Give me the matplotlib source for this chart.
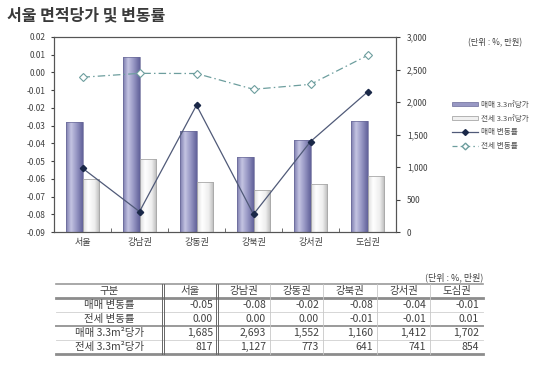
import numpy as np
import matplotlib
matplotlib.use('Agg')
import matplotlib.pyplot as plt
from matplotlib.colors import LinearSegmentedColormap
from matplotlib.lines import Line2D
from matplotlib.patches import Patch

plt.rcParams['font.family'] = ['Noto Sans CJK KR', 'DejaVu Sans']

# ---------------- data ----------------
categories = ['서울', '강남권', '강동권', '강북권', '강서권', '도심권']
sale_price = [1685, 2693, 1552, 1160, 1412, 1702]      # 매매 3.3㎡당가
jeonse_price = [817, 1127, 773, 641, 741, 854]         # 전세 3.3㎡당가
sale_rate = [-0.054, -0.0785, -0.0185, -0.080, -0.039, -0.011]     # 매매 변동률
jeonse_rate = [-0.0027, -0.0005, -0.0006, -0.0095, -0.0067, 0.0096]  # 전세 변동률
table_sale_rate = [-0.05, -0.08, -0.02, -0.08, -0.04, -0.01]
table_jeonse_rate = [0.00, 0.00, 0.00, -0.01, -0.01, 0.01]
left_ticks = [0.02, 0.01, 0.00, -0.01, -0.02, -0.03, -0.04, -0.05, -0.06, -0.07, -0.08, -0.09]
right_ticks = [0, 500, 1000, 1500, 2000, 2500, 3000]
legend_labels = ['매매 3.3㎡당가', '전세 3.3㎡당가', '매매 변동률', '전세 변동률']
table_header = ['구분'] + categories
table_row_labels = ['매매 변동률', '전세 변동률', '매매 3.3m²당가', '전세 3.3m²당가']

W, H = 550, 366
TXT = '#404040'

fig = plt.figure(figsize=(W / 100, H / 100), dpi=100)
fig.patch.set_facecolor('white')

def fx(x):
    return x / W

def fy(y):
    return 1 - y / H

rect = [fx(54), fy(232), (396 - 54) / W, (232 - 37) / H]
ax = fig.add_axes(rect)
axb = ax.twinx()
ax.set_zorder(axb.get_zorder() + 1)
ax.patch.set_visible(False)

x = np.arange(len(categories))
bw = 0.29

purple_cmap = LinearSegmentedColormap.from_list(
    'pur', [(0, '#7c7cae'), (0.3, '#c4c4e2'), (0.65, '#9494c2'), (1, '#62629a')])
white_cmap = LinearSegmentedColormap.from_list(
    'wht', [(0, '#dcdcdc'), (0.3, '#ffffff'), (0.7, '#eeeeee'), (1, '#b8b8b8')])
grad = np.linspace(0, 1, 64).reshape(1, -1)

bars1 = axb.bar(x - bw, sale_price, width=bw, align='edge', facecolor='none',
                edgecolor='#6a6a98', linewidth=0.5, zorder=3)
bars2 = axb.bar(x, jeonse_price, width=bw, align='edge', facecolor='none',
                edgecolor='#a8a8a8', linewidth=0.6, zorder=3)
for bars, cm in ((bars1, purple_cmap), (bars2, white_cmap)):
    for r in bars:
        x0, y0, w, h = r.get_x(), r.get_y(), r.get_width(), r.get_height()
        im = axb.imshow(grad, extent=[x0, x0 + w, y0, y0 + h], aspect='auto',
                        cmap=cm, zorder=2, interpolation='bilinear')
        im.set_clip_path(r)

ax.plot(x, sale_rate, color='#505a78', linewidth=0.9, marker='D', markersize=3.2,
        markerfacecolor='#1a2848', markeredgecolor='#1a2848', zorder=5)
ax.plot(x, jeonse_rate, color='#6d9e9e', linewidth=0.9, dashes=(6, 2.5, 1.2, 2.5),
        marker='D', markersize=3.6, markerfacecolor='white', markeredgecolor='#6d9e9e',
        markeredgewidth=0.8, zorder=5)

ax.set_xlim(-0.5, len(categories) - 0.5)
axb.set_xlim(-0.5, len(categories) - 0.5)
ax.set_ylim(-0.09, 0.02)
axb.set_ylim(0, 3000)

ax.set_yticks(left_ticks)
ax.set_yticklabels([f'{v:.2f}' if abs(v) > 1e-9 else '0.00' for v in left_ticks])
axb.set_yticks(right_ticks)
axb.set_yticklabels([f'{v:,}' for v in right_ticks])

ax.set_xticks(x)
ax.set_xticklabels(categories)
ax.set_xticks(np.arange(0.5, len(categories) - 0.5, 1), minor=True)
ax.tick_params(axis='x', which='major', length=0, labelsize=6.5, colors=TXT, pad=4)
ax.tick_params(axis='x', which='minor', length=3, direction='in', color='#555555')
ax.tick_params(axis='y', length=2, direction='out', labelsize=6, colors=TXT, pad=4)
axb.tick_params(axis='y', length=3, direction='out', labelsize=6, colors=TXT, pad=5)
axb.tick_params(axis='x', length=0)

for a in (ax, axb):
    for s in a.spines.values():
        s.set_color('#555555')
        s.set_linewidth(0.8)

# legend
handles = [
    Patch(facecolor='#9898c4', edgecolor='#6a6a98', linewidth=0.5),
    Patch(facecolor='#f0f0f0', edgecolor='#a8a8a8', linewidth=0.6),
    Line2D([], [], color='#505a78', linewidth=0.9, marker='D', markersize=3,
           markerfacecolor='#1a2848', markeredgecolor='#1a2848'),
    Line2D([], [], color='#6d9e9e', linewidth=0.9, dashes=(4, 2.5, 1.2, 2.5), marker='D',
           markersize=3.4, markerfacecolor='white', markeredgecolor='#6d9e9e'),
]
leg = fig.legend(handles, legend_labels, loc='upper left',
                 bbox_to_anchor=(fx(452), fy(101)), frameon=False, fontsize=5.5,
                 handlelength=3.4, handleheight=0.5, labelspacing=0.75,
                 handletextpad=0.4, borderpad=0, borderaxespad=0)
for t in leg.get_texts():
    t.set_color('#505050')

# titles
fig.text(fx(7), fy(15), '서울 면적당가 및 변동률', fontsize=11.5, fontweight='bold',
         va='center', ha='left', color='#3a3a3a')
fig.text(fx(468), fy(43), '(단위 : %, 만원)', fontsize=6, va='center', ha='left', color=TXT)

# ---------------- table ----------------
col_edges = [56, 163, 217, 270, 323, 377, 430, 483]
row_edges = [284, 298, 312, 326, 340, 354]

fig.text(fx(483), fy(277), '(단위 : %, 만원)', fontsize=6.5, va='center', ha='right', color=TXT)

def hline(y, color, lw):
    fig.add_artist(Line2D([fx(col_edges[0]), fx(col_edges[-1])], [fy(y), fy(y)],
                          color=color, linewidth=lw, transform=fig.transFigure))

def vline(xp, color, lw):
    fig.add_artist(Line2D([fx(xp), fx(xp)], [fy(row_edges[0]), fy(row_edges[-1])],
                          color=color, linewidth=lw, transform=fig.transFigure))

hline(row_edges[0], '#9a9a9a', 1.2)
hline(row_edges[1], '#8c8c8c', 2.0)
hline(row_edges[2], '#d0d0d0', 0.6)
hline(row_edges[3], '#9a9a9a', 1.4)
hline(row_edges[4], '#d0d0d0', 0.6)
hline(row_edges[5], '#8c8c8c', 2.0)

for xe in (col_edges[1], col_edges[2]):
    vline(xe - 1.3, '#666666', 0.7)
    vline(xe + 1.3, '#666666', 0.7)
for xe in col_edges[3:-1]:
    vline(xe, '#c8c8c8', 0.6)

def cy(i):
    return fy((row_edges[i] + row_edges[i + 1]) / 2)

for j, h in enumerate(table_header):
    fig.text(fx((col_edges[j] + col_edges[j + 1]) / 2), cy(0), h, fontsize=7.5,
             ha='center', va='center', color=TXT)

rows = [
    [f'{v:.2f}' for v in table_sale_rate],
    [f'{v:.2f}' for v in table_jeonse_rate],
    [f'{v:,}' for v in sale_price],
    [f'{v:,}' for v in jeonse_price],
]
for i, (lab, vals) in enumerate(zip(table_row_labels, rows)):
    fig.text(fx((col_edges[0] + col_edges[1]) / 2), cy(i + 1), lab, fontsize=7.5,
             ha='center', va='center', color=TXT)
    for j, v in enumerate(vals):
        fig.text(fx(col_edges[j + 2] - 4), cy(i + 1), v, fontsize=7.5,
                 ha='right', va='center', color=TXT)

fig.savefig('out.png', dpi=100)
